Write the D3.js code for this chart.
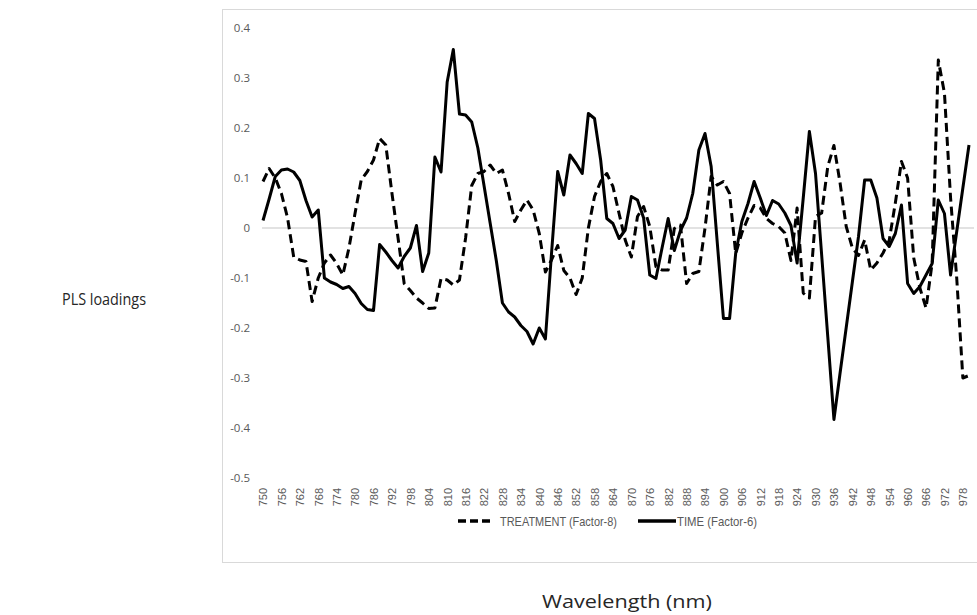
<!DOCTYPE html>
<html>
<head>
<meta charset="utf-8">
<script src="https://cdn.jsdelivr.net/npm/d3@7"></script>
<style>
  html, body { margin: 0; padding: 0; background: #fff; }
  svg { display: block; }
</style>
</head>
<body>
<svg id="chart" width="977" height="615"></svg>
<script>
// Wavelength grid (nm), one reading every 2 nm
const wavelengths = [
  750,752,754,756,758,760,762,764,766,768,770,772,774,776,778,780,782,784,786,788,
  790,792,794,796,798,800,802,804,806,808,810,812,814,816,818,820,822,824,826,828,
  830,832,834,836,838,840,842,844,846,848,850,852,854,856,858,860,862,864,866,868,
  870,872,874,876,878,880,882,884,886,888,890,892,894,896,898,900,902,904,906,908,
  910,912,914,916,918,920,922,924,926,928,930,932,934,936,938,940,942,944,946,948,
  950,952,954,956,958,960,962,964,966,968,970,972,974,976,978,980
];

// PLS loadings, TREATMENT model (Factor-8)
const treatment = [
  0.093,0.119,0.100,0.069,0.020,-0.058,-0.064,-0.067,-0.147,-0.100,
  -0.070,-0.054,-0.071,-0.094,-0.040,0.030,0.096,0.113,0.136,0.179,
  0.166,0.070,-0.020,-0.111,-0.125,-0.140,-0.150,-0.161,-0.160,-0.101,
  -0.104,-0.114,-0.104,-0.020,0.085,0.109,0.113,0.126,0.109,0.116,
  0.069,0.013,0.036,0.056,0.036,-0.011,-0.088,-0.064,-0.035,-0.085,
  -0.100,-0.133,-0.100,0.000,0.063,0.093,0.109,0.083,0.029,-0.024,
  -0.058,0.023,0.043,0.003,-0.077,-0.084,-0.084,-0.001,0.006,-0.111,
  -0.091,-0.087,0.000,0.103,0.086,0.093,0.069,-0.051,-0.010,0.020,
  0.045,0.040,0.019,0.009,0.003,-0.010,-0.065,0.040,-0.130,-0.140,
  0.023,0.030,0.123,0.165,0.090,0.003,-0.040,-0.055,-0.024,-0.084,
  -0.070,-0.050,-0.025,0.050,0.133,0.100,-0.060,-0.120,-0.160,-0.070,
  0.336,0.270,0.060,-0.100,-0.300,-0.295
];

// PLS loadings, TIME model (Factor-6)
const time = [
  0.015,0.058,0.103,0.116,0.118,0.112,0.095,0.055,0.022,0.036,
  -0.100,-0.108,-0.113,-0.121,-0.117,-0.131,-0.151,-0.163,-0.165,-0.033,
  -0.048,-0.065,-0.080,-0.057,-0.040,0.005,-0.087,-0.050,0.142,0.112,
  0.292,0.357,0.228,0.226,0.212,0.160,0.085,0.010,-0.065,-0.150,
  -0.168,-0.178,-0.195,-0.207,-0.232,-0.200,-0.222,-0.050,0.113,0.066,
  0.146,0.129,0.109,0.229,0.219,0.136,0.019,0.009,-0.021,-0.004,
  0.063,0.056,0.020,-0.094,-0.101,-0.040,0.019,-0.045,-0.005,0.020,
  0.069,0.156,0.189,0.123,-0.030,-0.181,-0.181,-0.050,0.013,0.049,
  0.093,0.060,0.025,0.055,0.048,0.030,0.005,-0.070,0.060,0.193,
  0.109,-0.054,-0.218,-0.383,-0.290,-0.199,-0.108,-0.017,0.096,0.096,
  0.060,-0.021,-0.037,-0.011,0.046,-0.111,-0.131,-0.117,-0.094,-0.071,
  0.056,0.029,-0.094,-0.007,0.080,0.166
];

// Labelled wavelengths on the x axis
const xTickLabels = [
  750,756,762,768,774,780,786,792,798,804,810,816,822,828,834,840,846,852,858,864,
  870,876,882,888,894,900,906,912,918,924,930,936,942,948,954,960,966,972,978
];

// Y axis ticks
const yTicks = [0.4,0.3,0.2,0.1,0,-0.1,-0.2,-0.3,-0.4,-0.5];

const seriesNames = ["TREATMENT (Factor-8)", "TIME (Factor-6)"];

const svg = d3.select("#chart");

const x = d3.scaleLinear().domain([750, 980]).range([263, 969]);
const y = d3.scaleLinear().domain([-0.5, 0.4]).range([478, 28]);

// Chart frame
svg.append("rect")
  .attr("x", 222.5).attr("y", 9.5)
  .attr("width", 800).attr("height", 553)
  .attr("fill", "#fff")
  .attr("stroke", "#d9d9d9").attr("stroke-width", 1);

// Zero line
svg.append("line")
  .attr("x1", 262).attr("x2", 974)
  .attr("y1", y(0)).attr("y2", y(0))
  .attr("stroke", "#d9d9d9").attr("stroke-width", 1.5);

// Y axis
const fmt = d => d === 0 ? "0" : String(+d.toFixed(1));
const yAxis = svg.append("g")
  .attr("transform", "translate(250,0)")
  .call(d3.axisLeft(y).tickValues(yTicks).tickSize(0).tickPadding(0).tickFormat(fmt));
yAxis.select(".domain").remove();
yAxis.selectAll("text")
  .attr("font-family", "'Open Sans', sans-serif")
  .attr("font-size", 11.5)
  .attr("fill", "#595959");

// X axis with vertical labels
const xAxis = svg.append("g")
  .attr("transform", "translate(0,486)")
  .call(d3.axisBottom(x).tickValues(xTickLabels).tickSize(0).tickPadding(0).tickFormat(d => String(d)));
xAxis.select(".domain").remove();
xAxis.selectAll("text")
  .attr("font-family", "'Liberation Sans Narrow', 'Liberation Sans', sans-serif")
  .attr("font-size", 11)
  .attr("fill", "#595959")
  .attr("text-anchor", "end")
  .attr("transform", "rotate(-90)")
  .attr("x", -2)
  .attr("y", 0)
  .attr("dy", "0.35em");

// Lines
const line = d3.line()
  .x((d, i) => x(wavelengths[i]))
  .y(d => y(d));

svg.append("path")
  .datum(treatment)
  .attr("d", line)
  .attr("fill", "none")
  .attr("stroke", "#000")
  .attr("stroke-width", 3)
  .attr("stroke-dasharray", "9,5")
  .attr("stroke-linejoin", "round");

svg.append("path")
  .datum(time)
  .attr("d", line)
  .attr("fill", "none")
  .attr("stroke", "#000")
  .attr("stroke-width", 3)
  .attr("stroke-linejoin", "round");

// Legend
const legend = svg.append("g");
legend.append("line")
  .attr("x1", 458).attr("x2", 493).attr("y1", 521).attr("y2", 521)
  .attr("stroke", "#000").attr("stroke-width", 3.5).attr("stroke-dasharray", "8,4");
legend.append("text")
  .attr("x", 500).attr("y", 525.5)
  .attr("font-family", "'Liberation Sans Narrow', 'Liberation Sans', sans-serif")
  .attr("font-size", 13).attr("fill", "#595959")
  .attr("textLength", 117).attr("lengthAdjust", "spacingAndGlyphs")
  .text(seriesNames[0]);
legend.append("line")
  .attr("x1", 638).attr("x2", 676).attr("y1", 521).attr("y2", 521)
  .attr("stroke", "#000").attr("stroke-width", 3.5);
legend.append("text")
  .attr("x", 677).attr("y", 525.5)
  .attr("font-family", "'Liberation Sans Narrow', 'Liberation Sans', sans-serif")
  .attr("font-size", 13).attr("fill", "#595959")
  .attr("textLength", 80).attr("lengthAdjust", "spacingAndGlyphs")
  .text(seriesNames[1]);

// Axis titles
svg.append("text")
  .attr("x", 62).attr("y", 305)
  .attr("font-family", "'Open Sans', sans-serif")
  .attr("font-size", 16).attr("fill", "#262626")
  .attr("textLength", 84).attr("lengthAdjust", "spacingAndGlyphs")
  .text("PLS loadings");

svg.append("text")
  .attr("x", 542).attr("y", 608)
  .attr("font-family", "'Open Sans', sans-serif")
  .attr("font-size", 18.5).attr("fill", "#262626")
  .attr("textLength", 170).attr("lengthAdjust", "spacingAndGlyphs")
  .text("Wavelength (nm)");
</script>
</body>
</html>
